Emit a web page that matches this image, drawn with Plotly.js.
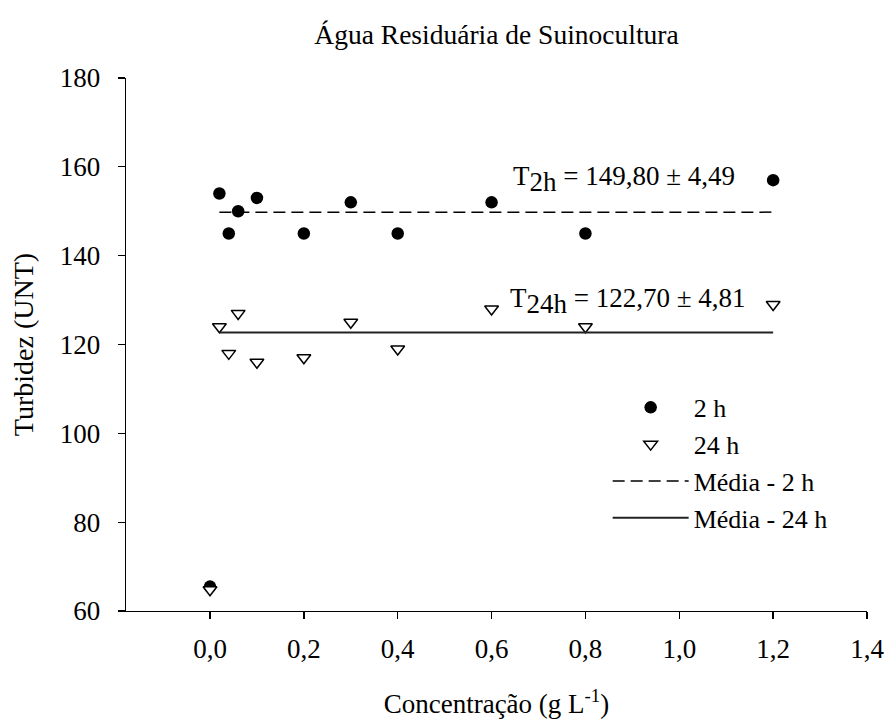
<!DOCTYPE html>
<html>
<head>
<meta charset="utf-8">
<script src="https://cdn.plot.ly/plotly-3.0.1.min.js"></script>
<style>html,body{margin:0;padding:0;background:#fff;}#chart{width:887px;height:720px;}</style>
</head>
<body>
<div id="chart"></div>
<script>
// Data
const concentration = [0, 0.02, 0.04, 0.06, 0.1, 0.2, 0.3, 0.4, 0.6, 0.8, 1.2];
const turbidity2h  = [65.5, 154, 145, 150, 153, 145, 152, 145, 152, 145, 157];
const turbidity24h = [64.8, 124, 118, 127, 116, 117, 125, 119, 128, 124, 129];
const meanX = [0.02, 1.2];
const mean2h = [149.8, 149.8];
const mean24h = [122.7, 122.7];
const xTickVals = [0, 0.2, 0.4, 0.6, 0.8, 1.0, 1.2, 1.4];
const xTickText = ["0,0", "0,2", "0,4", "0,6", "0,8", "1,0", "1,2", "1,4"];
const yTickVals = [60, 80, 100, 120, 140, 160, 180];
const seriesNames = ["2 h", "24 h", "Média - 2 h", "Média - 24 h"];
const labels = {
  title: "Água Residuária de Suinocultura",
  xTitle: "Concentração (g L<sup>-1</sup>)",
  yTitle: "Turbidez (UNT)",
  ann2h: "T<sub><span style=\"font-size:27px\">2h</span></sub> = 149,80 ± 4,49",
  ann24h: "T<sub><span style=\"font-size:27px\">24h</span></sub> = 122,70 ± 4,81"
};
const annPos2h = {x: 0.641, y: 157.3};
const annPos24h = {x: 0.635, y: 129.8};

const FONT = "Liberation Serif";

const traces = [
  {x: concentration, y: turbidity2h, name: seriesNames[0], mode: "markers", type: "scatter",
   marker: {symbol: "circle", size: 12.5, color: "#000"}},
  {x: concentration, y: turbidity24h, name: seriesNames[1], mode: "markers", type: "scatter",
   marker: {symbol: "triangle-down", size: 12, color: "#fff", line: {color: "#000", width: 1.5}}},
  {x: meanX, y: mean2h, name: seriesNames[2], mode: "lines", type: "scatter",
   line: {color: "#000", width: 1.5, dash: "12px,6px"}},
  {x: meanX, y: mean24h, name: seriesNames[3], mode: "lines", type: "scatter",
   line: {color: "#222", width: 1.8}}
];

const layout = {
  width: 887, height: 720,
  margin: {l: 126, r: 20, t: 78, b: 109},
  paper_bgcolor: "#fff", plot_bgcolor: "#fff",
  font: {family: FONT, size: 27, color: "#000"},
  title: {text: labels.title, font: {family: FONT, size: 27.5, color: "#000"},
          x: 0.5, xref: "paper", xanchor: "center", y: 0.952, yref: "container", yanchor: "middle"},
  xaxis: {
    range: [-0.179, 1.4], showgrid: false, zeroline: false,
    showline: true, linecolor: "#000", linewidth: 1.3,
    ticks: "outside", ticklen: 7, tickwidth: 1.3, tickcolor: "#000",
    tickvals: xTickVals, ticktext: xTickText, ticklabelstandoff: 6,
    tickfont: {family: FONT, size: 27, color: "#000"},
    title: {text: labels.xTitle, font: {family: FONT, size: 27, color: "#000"}, standoff: 31}
  },
  yaxis: {
    range: [60, 180], showgrid: false, zeroline: false,
    showline: true, linecolor: "#000", linewidth: 1.3,
    ticks: "outside", ticklen: 7, tickwidth: 1.3, tickcolor: "#000",
    tickvals: yTickVals, ticklabelstandoff: 12,
    tickfont: {family: FONT, size: 27, color: "#000"},
    title: {text: labels.yTitle, font: {family: FONT, size: 28, color: "#000"}, standoff: 18}
  },
  legend: {
    x: 0.650, y: 0.426, xanchor: "left", yanchor: "top",
    bgcolor: "rgba(0,0,0,0)", borderwidth: 0,
    font: {family: FONT, size: 26, color: "#000"},
    itemwidth: 76, tracegroupgap: 0
  },
  showlegend: true,
  annotations: [
    {x: annPos2h.x, y: annPos2h.y, xref: "x", yref: "y", text: labels.ann2h, showarrow: false,
     xanchor: "left", yanchor: "middle", font: {family: FONT, size: 27, color: "#000"}},
    {x: annPos24h.x, y: annPos24h.y, xref: "x", yref: "y", text: labels.ann24h, showarrow: false,
     xanchor: "left", yanchor: "middle", font: {family: FONT, size: 27, color: "#000"}}
  ]
};

Plotly.newPlot("chart", traces, layout, {displayModeBar: false, staticPlot: true});
</script>
</body>
</html>
